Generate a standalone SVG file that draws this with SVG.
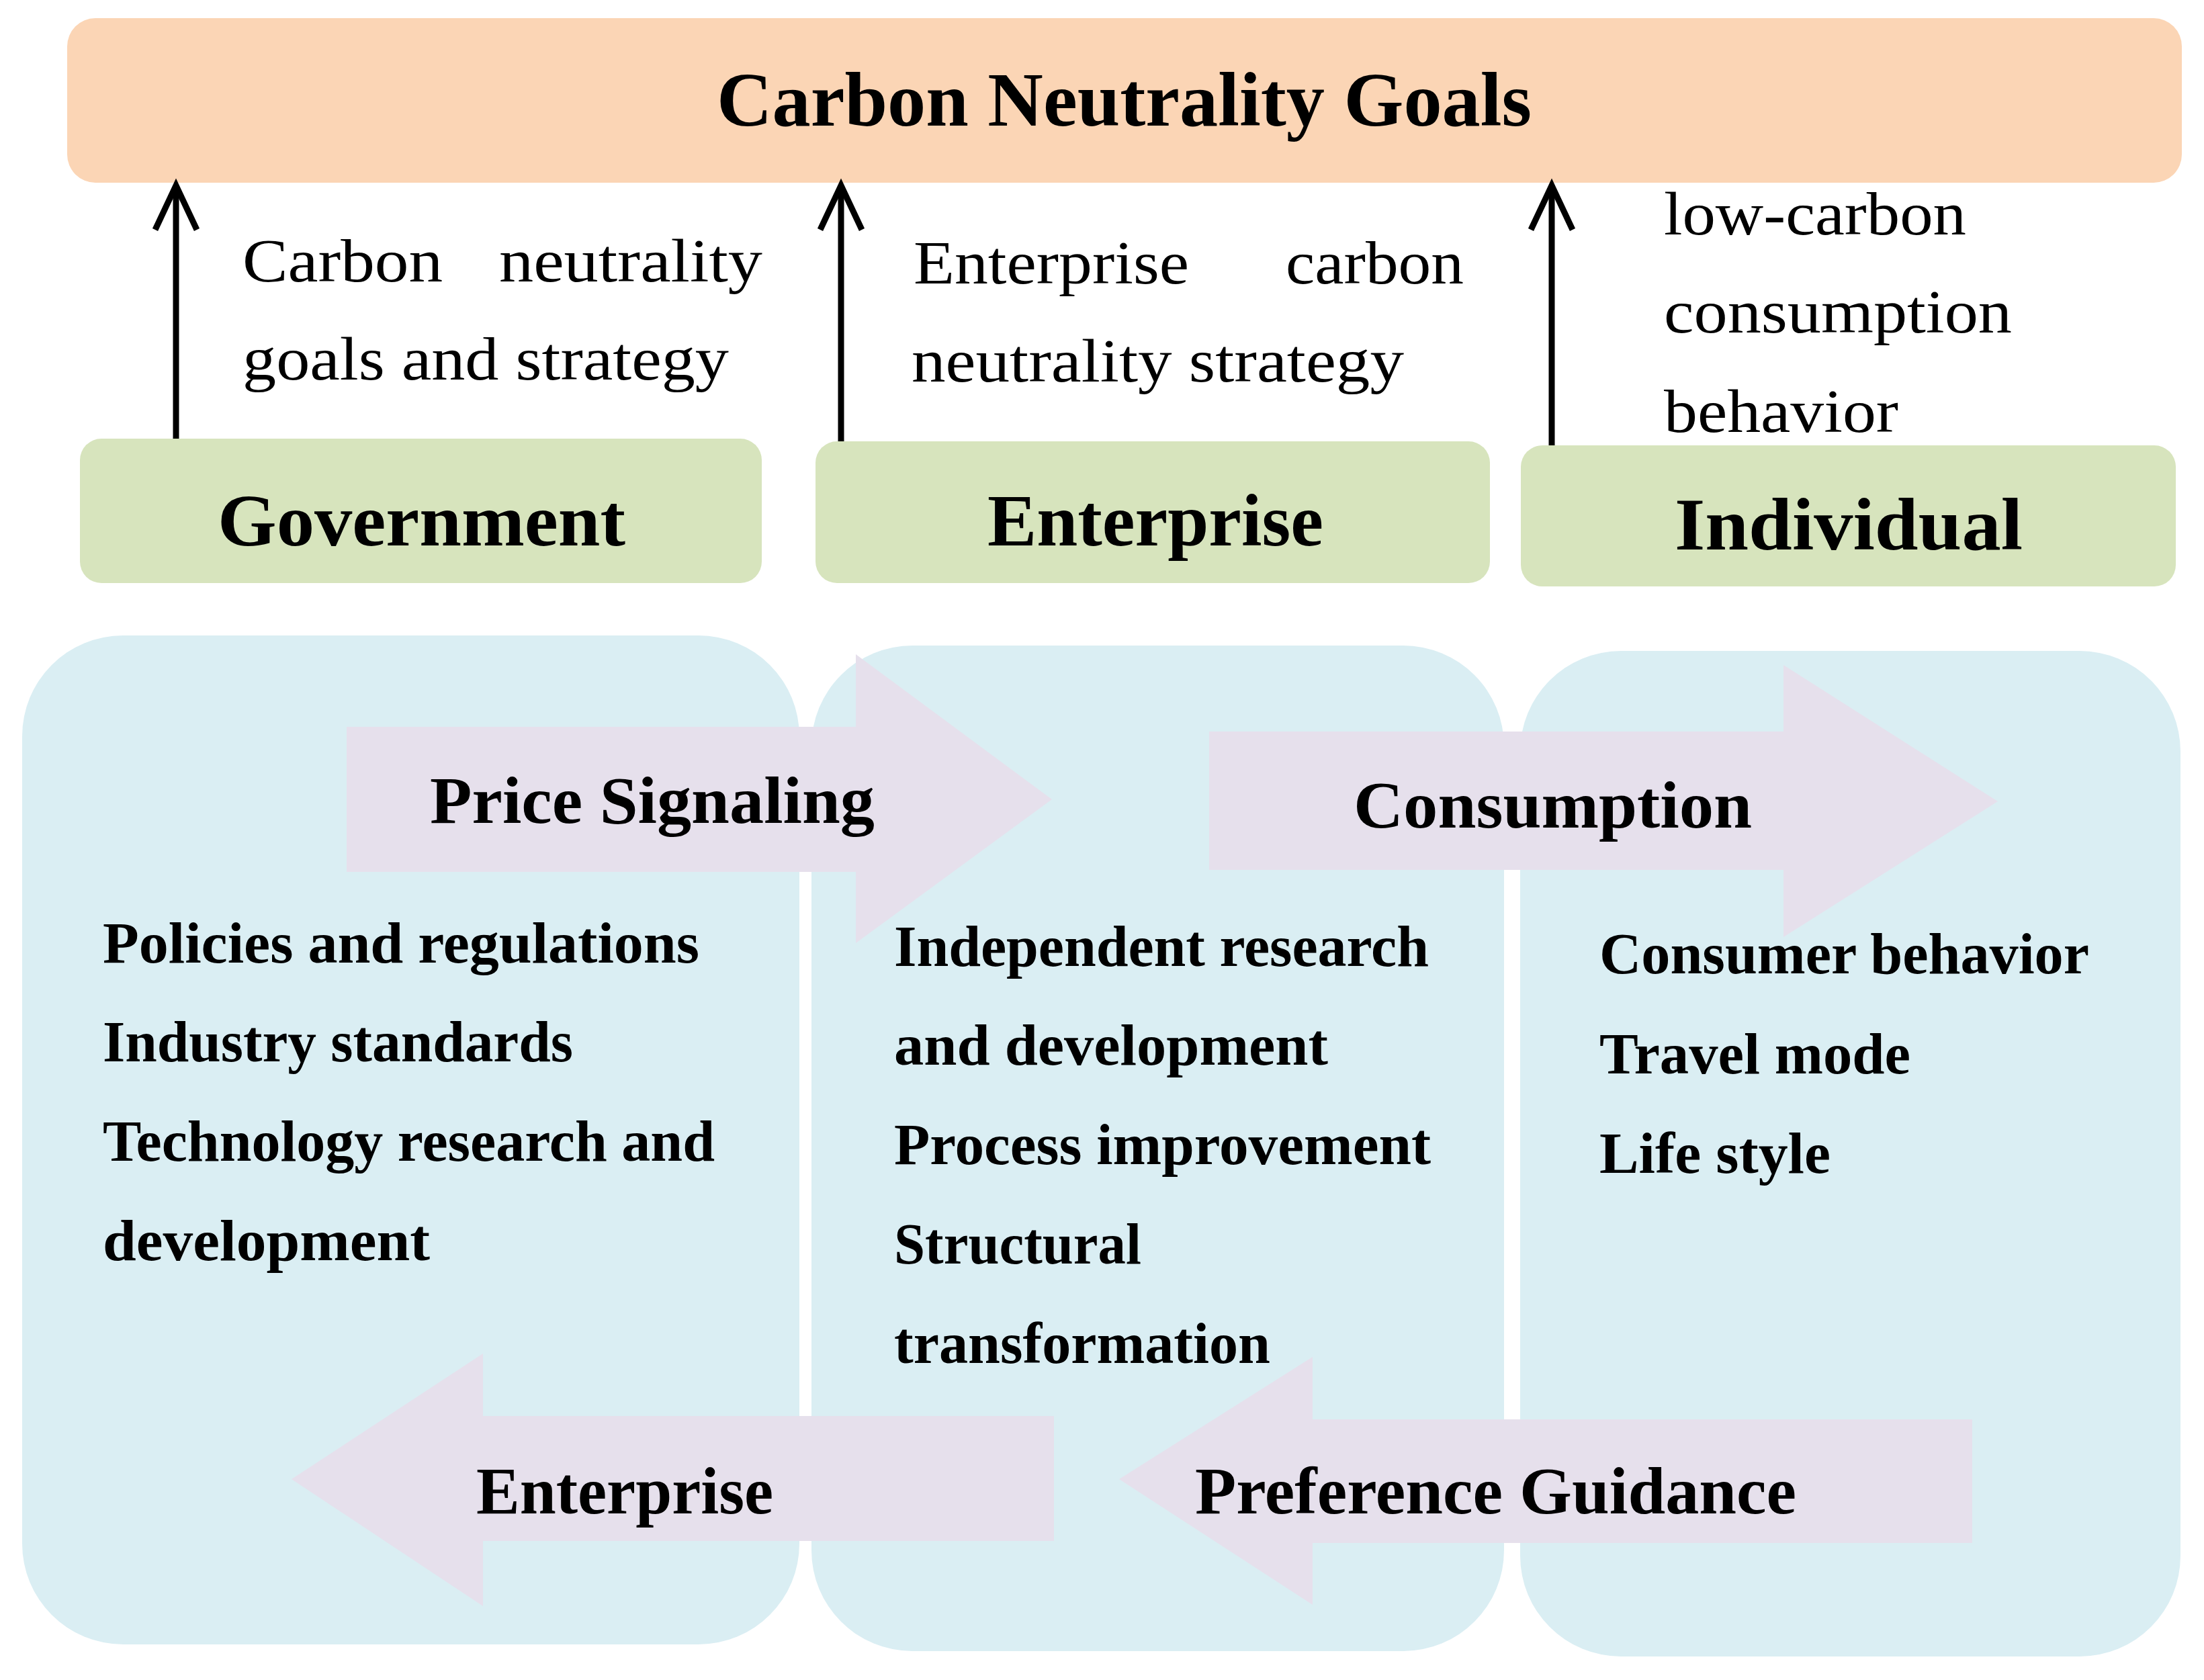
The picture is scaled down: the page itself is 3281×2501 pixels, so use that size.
<svg xmlns="http://www.w3.org/2000/svg" width="3281" height="2501" viewBox="0 0 3281 2501">
<defs>
<style>
.goal{fill:#FBD5B5}
.actor{fill:#D7E4BD}
.panel{fill:#DAEEF3}
.flow{fill:#E6E0EC}
.t{font-family:"Liberation Serif","Times New Roman",serif;fill:#000}
.b{font-weight:bold}
.title{font-size:114px}
.actorT{font-size:110px}
.lab{font-size:90px}
.flowT{font-size:100px}
.item{font-size:86px}
.up{stroke:#000;stroke-width:9;fill:none;marker-end:url(#chev)}
</style>
<marker id="chev" markerUnits="userSpaceOnUse" viewBox="0 -40 80 80" markerWidth="80" markerHeight="80" refX="70" refY="0" orient="auto" overflow="visible">
<path d="M4,-31 L70,0 L4,31" fill="none" stroke="#000" stroke-width="9" stroke-linejoin="miter"/>
</marker>
</defs>
<rect width="3281" height="2501" fill="#fff"/>

<g id="goal">
<rect class="goal" x="100" y="27" width="3148" height="245" rx="42"/>
<text class="t b title" x="1067" y="187" textLength="1213" lengthAdjust="spacingAndGlyphs">Carbon Neutrality Goals</text>
</g>

<g id="government">
<rect class="actor" x="119" y="653" width="1015" height="215" rx="32"/>
<text class="t b actorT" x="324" y="812" textLength="607" lengthAdjust="spacingAndGlyphs">Government</text>
</g>
<g id="enterprise">
<rect class="actor" x="1214" y="657" width="1004" height="211" rx="32"/>
<text class="t b actorT" x="1470" y="812" textLength="500" lengthAdjust="spacingAndGlyphs">Enterprise</text>
</g>
<g id="individual">
<rect class="actor" x="2264" y="663" width="975" height="210" rx="32"/>
<text class="t b actorT" x="2493" y="818" textLength="518" lengthAdjust="spacingAndGlyphs">Individual</text>
</g>

<g id="connectors">
<line class="up" x1="262" y1="653" x2="262" y2="276"/>
<line class="up" x1="1252" y1="657" x2="1252" y2="276"/>
<line class="up" x1="2310" y1="663" x2="2310" y2="276"/>
</g>

<g id="labels">
<text class="t lab" x="361" y="419" textLength="298" lengthAdjust="spacingAndGlyphs">Carbon</text>
<text class="t lab" x="743" y="419" textLength="392" lengthAdjust="spacingAndGlyphs">neutrality</text>
<text class="t lab" x="361" y="565" textLength="724" lengthAdjust="spacingAndGlyphs">goals and strategy</text>
<text class="t lab" x="1360" y="422" textLength="410" lengthAdjust="spacingAndGlyphs">Enterprise</text>
<text class="t lab" x="1914" y="422" textLength="265" lengthAdjust="spacingAndGlyphs">carbon</text>
<text class="t lab" x="1357" y="568" textLength="733" lengthAdjust="spacingAndGlyphs">neutrality strategy</text>
<text class="t lab" x="2477" y="349" textLength="450" lengthAdjust="spacingAndGlyphs">low-carbon</text>
<text class="t lab" x="2477" y="495" textLength="518" lengthAdjust="spacingAndGlyphs">consumption</text>
<text class="t lab" x="2477" y="643" textLength="349" lengthAdjust="spacingAndGlyphs">behavior</text>
</g>

<g id="panel-government">
<rect class="panel" x="33" y="946" width="1157" height="1502" rx="150"/>
</g>
<g id="panel-enterprise">
<rect class="panel" x="1208" y="961" width="1031" height="1497" rx="150"/>
</g>
<g id="panel-individual">
<rect class="panel" x="2263" y="969" width="983" height="1497" rx="150"/>
</g>

<g id="price-signaling">
<polygon class="flow" points="516,1082 1274,1082 1274,974 1566,1190 1274,1404 1274,1298 516,1298"/>
<text class="t b flowT" x="640" y="1225" textLength="662" lengthAdjust="spacingAndGlyphs">Price Signaling</text>
</g>
<g id="consumption">
<polygon class="flow" points="1800,1089 2655,1089 2655,990 2974,1193 2655,1395 2655,1295 1800,1295"/>
<text class="t b flowT" x="2015" y="1232" textLength="593" lengthAdjust="spacingAndGlyphs">Consumption</text>
</g>
<g id="enterprise-flow">
<polygon class="flow" points="434,2202 719,2015 719,2108 1569,2108 1569,2294 719,2294 719,2391"/>
<text class="t b flowT" x="709" y="2253" textLength="442" lengthAdjust="spacingAndGlyphs">Enterprise</text>
</g>
<g id="preference-guidance">
<polygon class="flow" points="1666,2202 1954,2020 1954,2113 2936,2113 2936,2297 1954,2297 1954,2389"/>
<text class="t b flowT" x="1779" y="2253" textLength="895" lengthAdjust="spacingAndGlyphs">Preference Guidance</text>
</g>

<g id="government-items">
<text class="t b item" x="153" y="1433" textLength="888" lengthAdjust="spacingAndGlyphs">Policies and regulations</text>
<text class="t b item" x="153" y="1580" textLength="700" lengthAdjust="spacingAndGlyphs">Industry standards</text>
<text class="t b item" x="153" y="1728" textLength="911" lengthAdjust="spacingAndGlyphs">Technology research and</text>
<text class="t b item" x="153" y="1876" textLength="487" lengthAdjust="spacingAndGlyphs">development</text>
</g>
<g id="enterprise-items">
<text class="t b item" x="1331" y="1438" textLength="796" lengthAdjust="spacingAndGlyphs">Independent research</text>
<text class="t b item" x="1331" y="1585" textLength="646" lengthAdjust="spacingAndGlyphs">and development</text>
<text class="t b item" x="1331" y="1733" textLength="799" lengthAdjust="spacingAndGlyphs">Process improvement</text>
<text class="t b item" x="1331" y="1881" textLength="368" lengthAdjust="spacingAndGlyphs">Structural</text>
<text class="t b item" x="1331" y="2029" textLength="560" lengthAdjust="spacingAndGlyphs">transformation</text>
</g>
<g id="individual-items">
<text class="t b item" x="2381" y="1449" textLength="729" lengthAdjust="spacingAndGlyphs">Consumer behavior</text>
<text class="t b item" x="2381" y="1598" textLength="463" lengthAdjust="spacingAndGlyphs">Travel mode</text>
<text class="t b item" x="2381" y="1746" textLength="344" lengthAdjust="spacingAndGlyphs">Life style</text>
</g>
</svg>
